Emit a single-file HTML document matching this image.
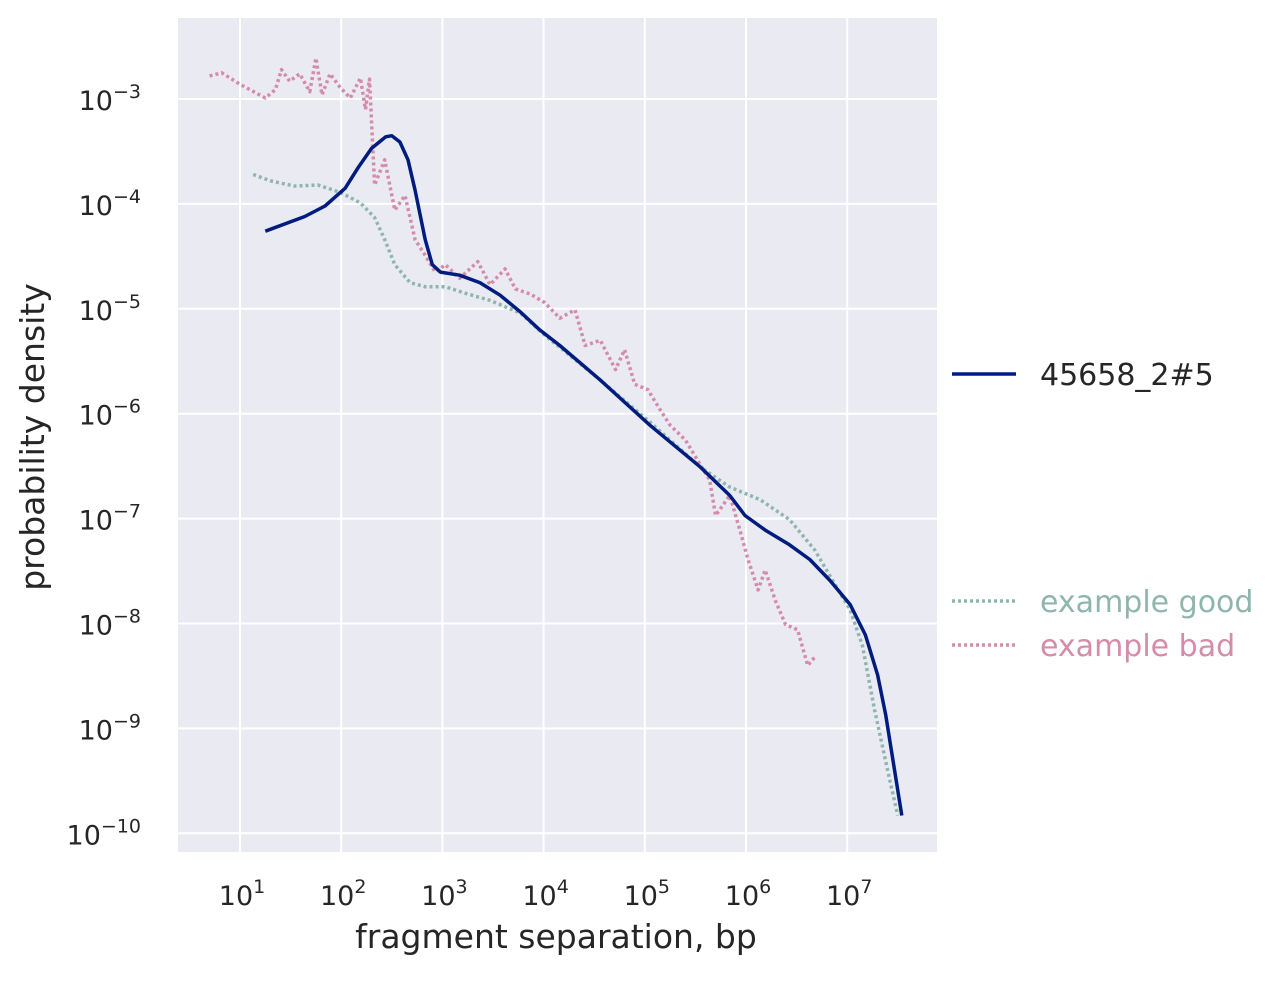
<!DOCTYPE html>
<html><head><meta charset="utf-8"><style>
body{margin:0;background:#fff;}
svg{font-family:"DejaVu Sans","Liberation Sans",sans-serif;}
</style></head><body>
<svg id="chart" width="1283" height="976">
<rect x="178" y="18" width="759" height="834" fill="#eaeaf2"/>
<g id="grid"></g><g id="ticks"></g><g id="series"></g>
<text x="556" y="948" font-size="33" text-anchor="middle" fill="#262626">fragment separation, bp</text>
<text transform="translate(44,437) rotate(-90)" font-size="33" text-anchor="middle" fill="#262626">probability density</text>
<g>
<line x1="952" y1="374" x2="1016" y2="374" stroke="#001c7f" stroke-width="3.5"/>
<text x="1040" y="385" font-size="30" fill="#262626">45658_2#5</text>
<line x1="952" y1="601" x2="1016" y2="601" stroke="#8fb5ae" stroke-width="3.5" stroke-dasharray="3,3"/>
<text x="1040" y="612" font-size="30" fill="#8fb5ae">example good</text>
<line x1="952" y1="645" x2="1016" y2="645" stroke="#d48ca9" stroke-width="3.5" stroke-dasharray="3,3"/>
<text x="1040" y="656" font-size="30" fill="#d48ca9">example bad</text>
</g>
</svg>
<script>
const xTicks=[1,2,3,4,5,6,7];
const yTicks=[-3,-4,-5,-6,-7,-8,-9,-10];
const sampleX=[1.25,1.64,1.84,2.04,2.17,2.30,2.44,2.50,2.58,2.66,2.73,2.83,2.90,2.98,3.17,3.37,3.57,3.77,3.96,4.16,4.56,5.05,5.55,5.84,5.99,6.19,6.43,6.63,6.83,7.03,7.18,7.30,7.38,7.54];
const sampleY=[-4.26,-4.12,-4.02,-3.85,-3.65,-3.47,-3.36,-3.35,-3.41,-3.58,-3.87,-4.34,-4.58,-4.65,-4.68,-4.75,-4.87,-5.03,-5.20,-5.35,-5.68,-6.11,-6.51,-6.78,-6.97,-7.11,-7.25,-7.39,-7.59,-7.82,-8.11,-8.49,-8.87,-9.83];
const goodX=[1.13,1.30,1.54,1.77,1.99,2.19,2.33,2.43,2.53,2.68,2.83,3.03,3.22,3.47,3.77,4.01,4.56,5.05,5.55,5.84,6.14,6.43,6.68,6.88,7.03,7.15,7.27,7.42,7.50];
const goodY=[-3.72,-3.78,-3.83,-3.82,-3.89,-3.99,-4.13,-4.34,-4.58,-4.75,-4.79,-4.79,-4.85,-4.92,-5.04,-5.25,-5.68,-6.08,-6.51,-6.70,-6.82,-7.01,-7.30,-7.63,-7.87,-8.21,-8.82,-9.49,-9.83];
const badX=[0.70,0.82,1.00,1.25,1.35,1.41,1.49,1.59,1.69,1.75,1.81,1.89,1.99,2.09,2.19,2.24,2.28,2.33,2.43,2.53,2.63,2.73,2.83,2.93,3.03,3.17,3.35,3.47,3.62,3.72,3.87,4.01,4.16,4.31,4.41,4.56,4.71,4.80,4.90,5.03,5.15,5.25,5.40,5.55,5.64,5.70,5.84,5.94,6.02,6.12,6.19,6.29,6.39,6.51,6.61,6.68];
const badY=[-2.78,-2.75,-2.86,-2.99,-2.91,-2.72,-2.83,-2.76,-2.93,-2.61,-2.96,-2.76,-2.89,-2.99,-2.80,-3.10,-2.81,-3.82,-3.58,-4.06,-3.92,-4.34,-4.49,-4.65,-4.58,-4.71,-4.55,-4.77,-4.62,-4.81,-4.86,-4.94,-5.09,-5.01,-5.35,-5.30,-5.58,-5.39,-5.72,-5.77,-5.96,-6.11,-6.25,-6.49,-6.63,-6.97,-6.78,-7.11,-7.39,-7.68,-7.49,-7.78,-8.01,-8.06,-8.40,-8.32];
const NS="http://www.w3.org/2000/svg";
const sx=l=>240+(l-1)*101.2;
const sy=l=>99+(-3-l)*104.9;
const grid=document.getElementById('grid'),ticks=document.getElementById('ticks'),ser=document.getElementById('series');
function mk(tag,attrs,parent){const e=document.createElementNS(NS,tag);for(const k in attrs)e.setAttribute(k,attrs[k]);parent.appendChild(e);return e;}
xTicks.forEach(t=>{
 const l=mk('line',{x1:sx(t),x2:sx(t),y1:18,y2:852,stroke:'#fff','stroke-width':2},grid);
 
 
 const tx=mk('text',{x:sx(t)+2,y:905,'font-size':27,'text-anchor':'middle',fill:'#262626'},ticks);
 
 
 tx.innerHTML='10<tspan dy="-12" font-size="19">'+t+'</tspan>';
});
yTicks.forEach(t=>{
 const l=mk('line',{x1:178,x2:937,y1:sy(t),y2:sy(t),stroke:'#fff','stroke-width':2},grid);
 
 
 const tx=mk('text',{x:141,y:sy(t)+11,'font-size':27,'text-anchor':'end',fill:'#262626'},ticks);
 
 
 tx.innerHTML='10<tspan dy="-12" font-size="19">\u2212'+(-t)+'</tspan>';
});
function path(xs,ys,color,dash,name){
 const d=xs.map((x,i)=>(i?'L':'M')+sx(x).toFixed(1)+','+sy(ys[i]).toFixed(1)).join('');
 const p=mk('path',{d:d,fill:'none',stroke:color,'stroke-width':3.5,'stroke-linejoin':'round'},ser);
 if(dash)p.setAttribute('stroke-dasharray',dash);
 
 
}
path(goodX,goodY,'#8fb5ae','3,3','series-example-good');
path(badX,badY,'#d48ca9','3,3','series-example-bad');
path(sampleX,sampleY,'#001c7f',null,'series-sample');
</script>
</body></html>
